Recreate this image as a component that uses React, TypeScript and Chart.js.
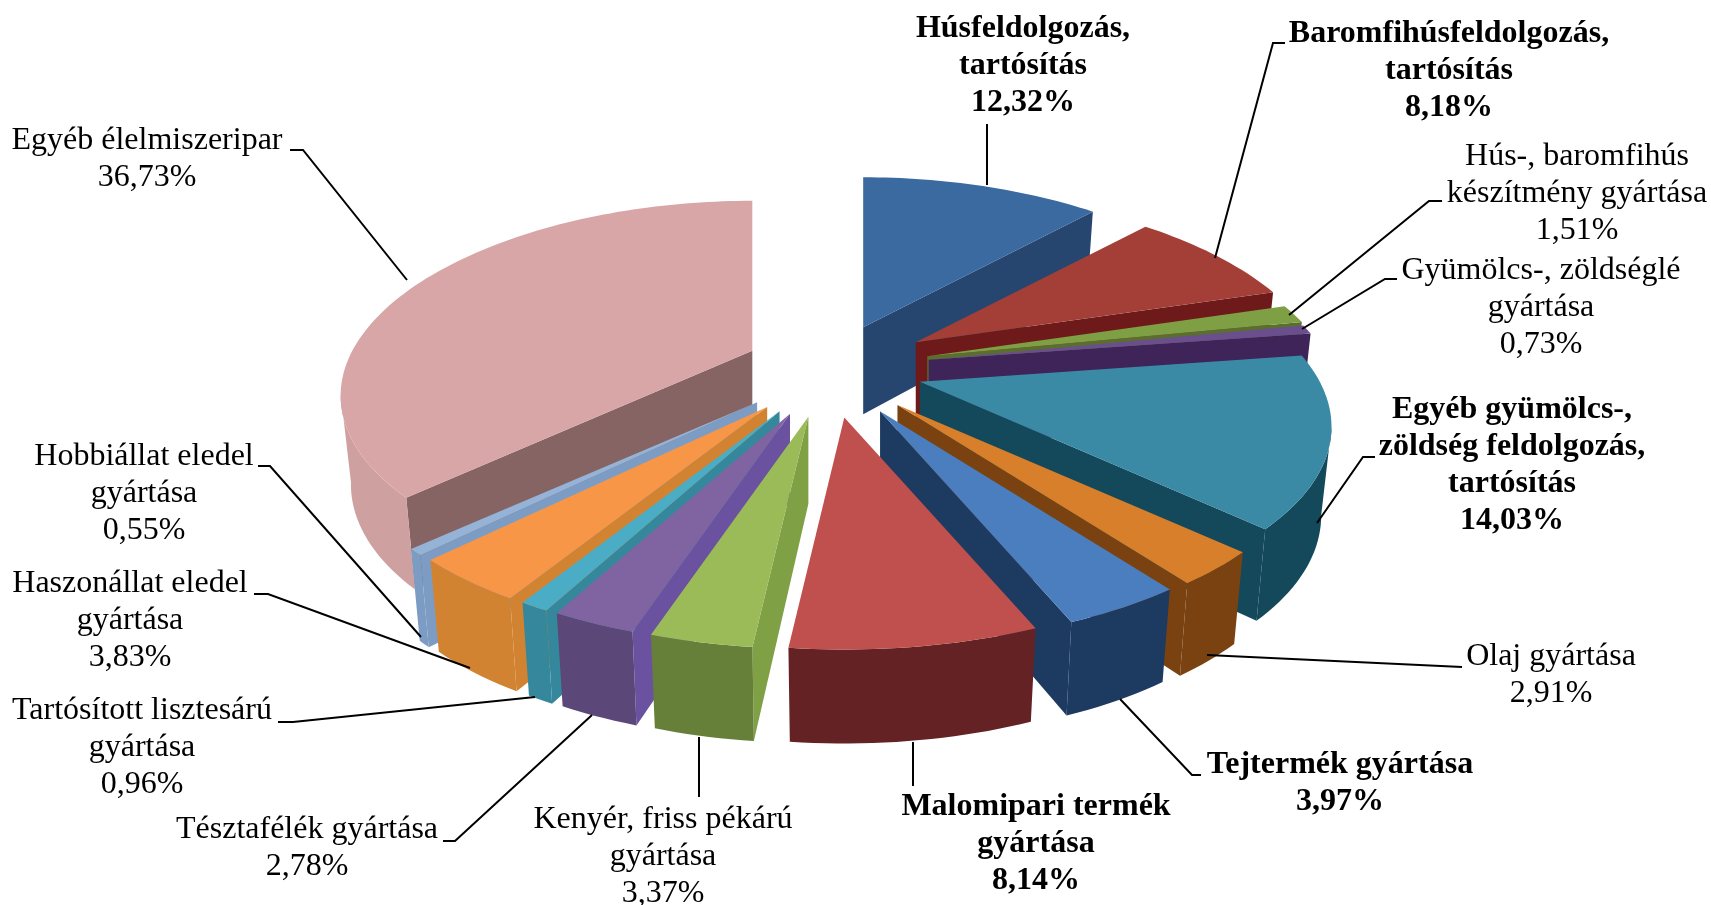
import React, { useEffect, useRef } from "react";
import { Chart, registerables } from "chart.js";

Chart.register(...registerables);

const categories = [
  "Húsfeldolgozás, tartósítás",
  "Baromfihúsfeldolgozás, tartósítás",
  "Hús-, baromfihús készítmény gyártása",
  "Gyümölcs-, zöldséglé gyártása",
  "Egyéb gyümölcs-, zöldség feldolgozás, tartósítás",
  "Olaj gyártása",
  "Tejtermék gyártása",
  "Malomipari termék gyártása",
  "Kenyér, friss pékárú gyártása",
  "Tésztafélék gyártása",
  "Tartósított lisztesárú gyártása",
  "Haszonállat eledel gyártása",
  "Hobbiállat eledel gyártása",
  "Egyéb élelmiszeripar",
];
const shares = [12.32, 8.18, 1.51, 0.73, 14.03, 2.91, 3.97, 8.14, 3.37, 2.78, 0.96, 3.83, 0.55, 36.73];
const shareLabels = ["12,32%", "8,18%", "1,51%", "0,73%", "14,03%", "2,91%", "3,97%", "8,14%", "3,37%", "2,78%", "0,96%", "3,83%", "0,55%", "36,73%"];
const explode = [88, 100, 100, 100, 94, 100, 100, 100, 100, 100, 100, 100, 100, 85];

const topColors = ["#3A6AA0", "#A43F38", "#7F9F45", "#6A4E8E", "#3B8AA5", "#D87F2C", "#4A7EBE", "#C0504D", "#9BBB59", "#8064A2", "#4BACC6", "#F79646", "#95B3D7", "#D9A6A7"];
const arcWallColors = ["#27466F", "#6E1A1A", "#5A6E2F", "#3E2458", "#14495C", "#7A4210", "#1D3A60", "#642224", "#66803A", "#5B4778", "#35879C", "#D18331", "#7D9CC4", "#CFA0A0"];
const sideWallColors = ["#27466F", "#6E1A1A", "#5A6E2F", "#3E2458", "#14495C", "#7A4210", "#1D3A60", "#642224", "#7FA044", "#6A52A0", "#35879C", "#D18331", "#7D9CC4", "#856463"];

const labelLines = [
  ["Húsfeldolgozás,", "tartósítás"],
  ["Baromfihúsfeldolgozás,", "tartósítás"],
  ["Hús-, baromfihús", "készítmény gyártása"],
  ["Gyümölcs-, zöldséglé", "gyártása"],
  ["Egyéb gyümölcs-,", "zöldség feldolgozás,", "tartósítás"],
  ["Olaj gyártása"],
  ["Tejtermék gyártása"],
  ["Malomipari termék", "gyártása"],
  ["Kenyér, friss pékárú", "gyártása"],
  ["Tésztafélék gyártása"],
  ["Tartósított lisztesárú", "gyártása"],
  ["Haszonállat eledel", "gyártása"],
  ["Hobbiállat eledel", "gyártása"],
  ["Egyéb élelmiszeripar"],
];
const labelBold = [true, true, false, false, true, false, true, true, false, false, false, false, false, false];
const labelCentreX = [1023, 1449, 1577, 1541, 1512, 1551, 1340, 1036, 663, 307, 142, 130, 144, 147];
const labelFirstY = [29, 34, 157, 271, 410, 657, 765, 807, 820, 830, 711, 584, 457, 141];
const leaderPaths = [
  [[987, 124], [987, 185]],
  [[1285, 43], [1273, 43], [1215, 258]],
  [[1442, 201], [1429, 201], [1289, 315]],
  [[1397, 279], [1385, 279], [1302, 329]],
  [[1375, 457], [1363, 457], [1317, 523]],
  [[1462, 667], [1207, 655]],
  [[1201, 775], [1192, 775], [1120, 699]],
  [[913, 742], [913, 786]],
  [[699, 737], [699, 797]],
  [[592, 715], [455, 841], [443, 841]],
  [[535, 697], [293, 722], [278, 722]],
  [[470, 668], [268, 594], [254, 594]],
  [[421, 637], [270, 466], [258, 466]],
  [[407, 280], [303, 150], [290, 150]],
];

const CENTRE = { x: 830, y: 368 };
const LINE_H = 36.8;
const FONT = '"Liberation Serif", "Times New Roman", serif';

const pie3d = {
  id: "pie3d",
  beforeDatasetDraw(chart: any) {
    const ctx = chart.ctx;
    const meta = chart.getDatasetMeta(0);
    const items = meta.data.map((arc: any, i: number) => {
      const a0 = arc.startAngle + Math.PI / 2;
      const a1 = arc.endAngle + Math.PI / 2;
      const m = (a0 + a1) / 2;
      return { arc, i, a0, a1, m, mv: -Math.cos(m) };
    });
    items.sort((p: any, q: any) => p.mv - q.mv);
    for (const it of items) {
      const e = it.arc.options.offset;
      const ax = CENTRE.x + e * Math.sin(it.m);
      const ay = CENTRE.y + (e / 2) * -Math.cos(it.m);
      const top = (t: number) => {
        const u = Math.sin(t);
        const v = -Math.cos(t);
        return { x: ax + u * (400 + 100 * v), y: ay + 191 * v + 41 * v * v, v };
      };
      const n = Math.max(4, Math.ceil((it.a1 - it.a0) * 40));
      const pts: any[] = [];
      for (let k = 0; k <= n; k++) pts.push(top(it.a0 + ((it.a1 - it.a0) * k) / n));
      const drop = (p: any) => ({ x: ax + (p.x - ax) * 0.975, y: p.y + 87 + 7 * p.v });
      const apex = { x: ax, y: ay, v: 0 };
      const wallPoly = (run: any[], color: string) => {
        ctx.beginPath();
        run.forEach((p: any, k: number) => (k ? ctx.lineTo(p.x, p.y) : ctx.moveTo(p.x, p.y)));
        [...run].reverse().forEach((p: any) => {
          const b = drop(p);
          ctx.lineTo(b.x, b.y);
        });
        ctx.closePath();
        ctx.fillStyle = color;
        ctx.fill();
      };
      const side = sideWallColors[it.i];
      const wall = arcWallColors[it.i];
      if (pts[0].x < apex.x) wallPoly([apex, pts[0]], side);
      let run: any[] = [];
      for (let k = 0; k < n; k++) {
        if (pts[k + 1].x < pts[k].x) {
          if (!run.length) run.push(pts[k]);
          run.push(pts[k + 1]);
        } else if (run.length) {
          wallPoly(run, wall);
          run = [];
        }
      }
      if (run.length) wallPoly(run, wall);
      if (apex.x < pts[n].x) wallPoly([pts[n], apex], side);
      ctx.beginPath();
      ctx.moveTo(apex.x, apex.y);
      pts.forEach((p: any) => ctx.lineTo(p.x, p.y));
      ctx.closePath();
      ctx.fillStyle = it.arc.options.backgroundColor;
      ctx.fill();
    }
    return false;
  },
  afterDraw(chart: any) {
    const ctx = chart.ctx;
    ctx.save();
    ctx.strokeStyle = "#000";
    ctx.lineWidth = 2;
    leaderPaths.forEach((path) => {
      ctx.beginPath();
      path.forEach(([x, y], k) => (k ? ctx.lineTo(x, y) : ctx.moveTo(x, y)));
      ctx.stroke();
    });
    ctx.fillStyle = "#000";
    ctx.textAlign = "center";
    ctx.textBaseline = "middle";
    labelLines.forEach((lines, i) => {
      ctx.font = `${labelBold[i] ? "bold " : ""}32px ${FONT}`;
      [...lines, shareLabels[i]].forEach((t, k) => {
        ctx.fillText(t, labelCentreX[i], labelFirstY[i] + k * LINE_H);
      });
    });
    ctx.restore();
  },
};

export default function App() {
  const ref = useRef<HTMLCanvasElement>(null);
  useEffect(() => {
    const chart = new Chart(ref.current as HTMLCanvasElement, {
      type: "pie",
      data: {
        labels: categories,
        datasets: [{ data: shares, backgroundColor: topColors, offset: explode, borderWidth: 0 }],
      },
      options: {
        animation: false,
        responsive: false,
        plugins: { legend: { display: false }, tooltip: { enabled: false } },
      },
      plugins: [pie3d],
    } as any);
    return () => chart.destroy();
  }, []);
  return (
    <div style={{ position: "fixed", left: 0, top: 0, width: 1711, height: 905, background: "#fff" }}>
      <canvas ref={ref} width={1711} height={905} style={{ display: "block" }} />
    </div>
  );
}
